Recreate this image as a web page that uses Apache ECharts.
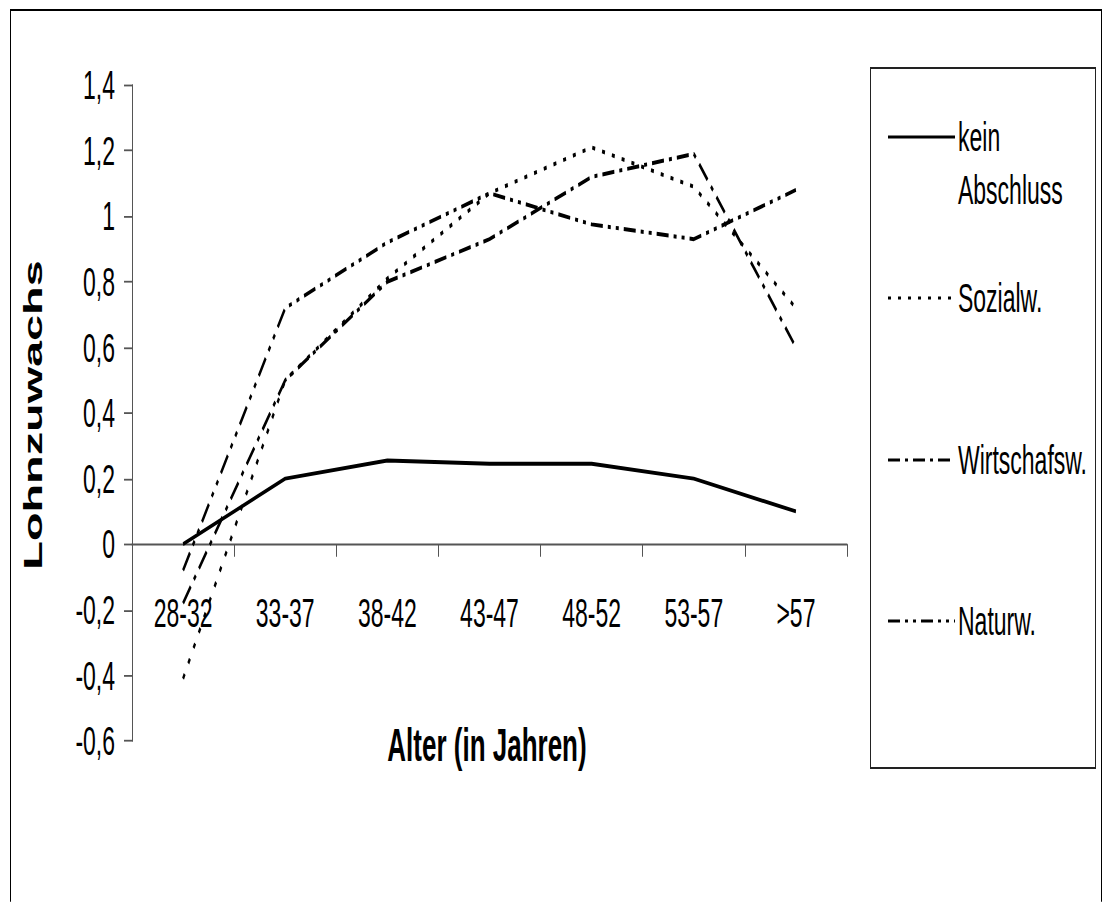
<!DOCTYPE html>
<html>
<head>
<meta charset="utf-8">
<script src="https://cdn.jsdelivr.net/npm/echarts@6/dist/echarts.min.js"></script>
<style>
html,body{margin:0;padding:0;background:#fff;overflow:hidden;width:1111px;height:902px}
#wrap{position:absolute;left:0;top:0;width:1111px;height:501px;transform:scaleY(1.8);transform-origin:0 0}
</style>
</head>
<body>
<div id="wrap"></div>
<script>
// ---- data ----
const categories = ['28-32', '33-37', '38-42', '43-47', '48-52', '53-57', '>57'];
const yTickLabels = ['-0,6', '-0,4', '-0,2', '0', '0,2', '0,4', '0,6', '0,8', '1', '1,2', '1,4'];
const seriesNames = ['kein Abschluss', 'Sozialw.', 'Wirtschafsw.', 'Naturw.'];
const legendLabels = ['kein\nAbschluss', 'Sozialw.', 'Wirtschafsw.', 'Naturw.'];
const keinAbschluss = [0, 0.2, 0.255, 0.245, 0.245, 0.2, 0.1];
const sozialw = [-0.41, 0.5, 0.81, 1.07, 1.21, 1.09, 0.72];
const wirtschafsw = [-0.18, 0.5, 0.8, 0.93, 1.12, 1.19, 0.6];
const naturw = [-0.08, 0.72, 0.92, 1.07, 0.975, 0.93, 1.08];
const seriesData = [keinAbschluss, sozialw, wirtschafsw, naturw];
const yAxisTitle = 'Lohnzuwachs';
const xAxisTitle = 'Alter (in Jahren)';

// ---- styles / layout ----
const S = 1.8;                 // vertical stretch of the whole picture
const Y = v => v / S;          // reference pixel y -> pre-stretch y
const FONT = "'Liberation Sans', Arial, sans-serif";
const dashes = [null, [3, 7], [12, 5, 3, 5], [12, 5, 3, 5, 3, 5]];
const legendRowsY = [137, 298, 460, 621];

const chart = echarts.init(document.getElementById('wrap'), null, {renderer: 'svg', width: 1111, height: 501});

const graphics = [
  {type: 'rect', silent: true, shape: {x: 10.5, y: Y(10), width: 1091, height: Y(950)},
   style: {fill: null, stroke: '#000', lineWidth: 1}},
  {type: 'rect', silent: true, shape: {x: 870.5, y: Y(68), width: 225, height: Y(768) - Y(68)},
   style: {fill: null, stroke: '#222', lineWidth: 1}},
  {type: 'text', silent: true, x: 33, y: Y(415), rotation: Math.PI / 2,
   style: {text: yAxisTitle, fontSize: 26, fontWeight: 'bold', fontFamily: FONT, fill: '#000', align: 'center', verticalAlign: 'middle'}},
  {type: 'text', silent: true, x: 487, y: Y(745),
   style: {text: xAxisTitle, fontSize: 26, fontWeight: 'bold', fontFamily: FONT, fill: '#000', align: 'center', verticalAlign: 'middle'}}
];
seriesNames.forEach((n, i) => {
  const ly = Y(legendRowsY[i]);
  graphics.push({type: 'line', silent: true, shape: {x1: 888, y1: ly, x2: 955, y2: ly},
    style: {stroke: '#000', lineWidth: 1.7, lineDash: dashes[i] || null}});
  const multi = legendLabels[i].indexOf('\n') >= 0;
  const lh = Y(53);
  graphics.push({type: 'text', silent: true, x: 958, y: multi ? ly - lh / 2 : ly,
    style: {text: legendLabels[i], fontSize: 23, fontFamily: FONT, fill: '#000', lineHeight: lh,
      align: 'left', verticalAlign: multi ? 'top' : 'middle'}});
});

chart.setOption({
  animation: false,
  backgroundColor: '#fff',
  grid: {left: 132, right: 264, top: Y(85), bottom: 501 - Y(741), containLabel: false},
  xAxis: {
    type: 'category', data: categories, boundaryGap: true,
    axisLine: {onZero: true, lineStyle: {color: '#555', width: 1}},
    axisTick: {show: true, length: 7, inside: false, lineStyle: {color: '#555'}},
    axisLabel: {margin: 27 - (Y(741) - Y(543)), fontSize: 23, color: '#000', fontFamily: FONT}
  },
  yAxis: {
    type: 'value', min: -0.6, max: 1.4, interval: 0.2,
    axisLine: {show: true, lineStyle: {color: '#555', width: 1}},
    axisTick: {show: true, length: 8, lineStyle: {color: '#555'}},
    splitLine: {show: false},
    axisLabel: {margin: 17, fontSize: 23, color: '#000', fontFamily: FONT,
      formatter: (v, idx) => yTickLabels[idx]}
  },
  series: seriesNames.map((n, i) => ({
    type: 'line', name: n, data: seriesData[i], symbol: 'none', showSymbol: false,
    lineStyle: {color: '#000', width: 2.2, type: dashes[i] || 'solid', cap: 'butt'},
    z: 10 - i
  })),
  graphic: graphics
});
</script>
</body>
</html>
